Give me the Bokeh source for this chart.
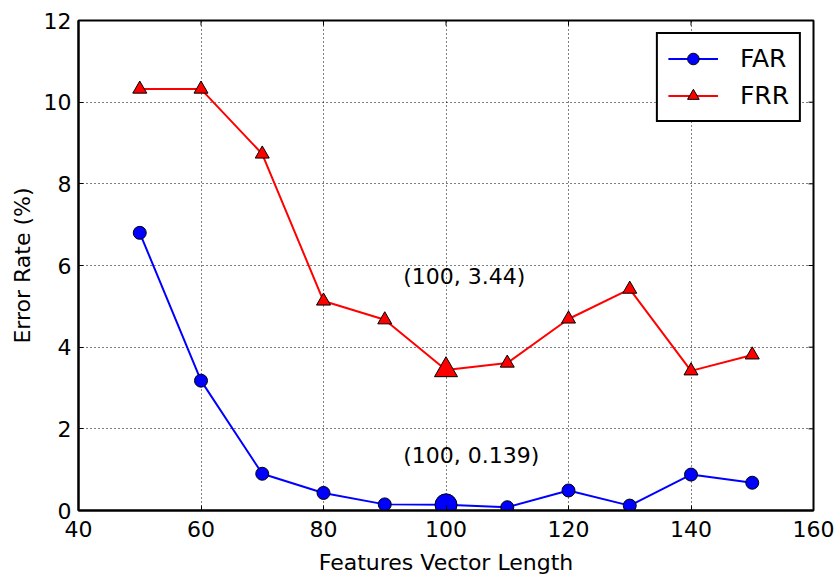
import math
from bokeh.plotting import figure
from bokeh.models import LinearAxis, Legend, LegendItem, FixedTicker, ColumnDataSource, Grid
from bokeh.core.properties import value
from bokeh.embed import file_html
from bokeh.resources import INLINE

# Data
x_len = [50, 60, 70, 80, 90, 100, 110, 120, 130, 140, 150]
far = [6.80, 3.18, 0.90, 0.43, 0.15, 0.139, 0.08, 0.49, 0.12, 0.88, 0.68]
frr = [10.32, 10.32, 8.73, 5.13, 4.67, 3.44, 3.61, 4.69, 5.42, 3.42, 3.81]
best_x = [100]
best_far = [0.139]
best_frr = [3.44]
ann_text = ["(100, 3.44)", "(100, 0.139)"]
ann_x = [93, 93]
ann_y = [5.72, 1.35]
x_ticks = [40, 60, 80, 100, 120, 140, 160]
y_ticks = [0, 2, 4, 6, 8, 10, 12]

FONT = "DejaVu Sans"

p = figure(width=838, height=577, x_range=(x_ticks[0], x_ticks[-1]),
           y_range=(y_ticks[0], y_ticks[-1]),
           output_backend="svg", toolbar_location=None,
           x_axis_type=None, y_axis_type=None,
           min_border_left=78, min_border_right=25, min_border_top=20, min_border_bottom=67)
p.background_fill_color = "white"
p.border_fill_color = "white"
p.outline_line_color = "black"
p.outline_line_alpha = 1
p.outline_line_width = 2


def make_axis(ticks, label):
    ax = LinearAxis(ticker=FixedTicker(ticks=ticks))
    ax.axis_line_color = "black"
    ax.axis_line_width = 2
    ax.major_tick_in = 5
    ax.major_tick_out = 0
    ax.major_tick_line_color = "black"
    ax.major_tick_line_width = 1
    ax.minor_tick_line_color = None
    ax.major_label_text_font = FONT
    ax.major_label_text_font_size = "22px"
    ax.major_label_text_color = "black"
    ax.major_label_standoff = 7
    ax.axis_label = label
    ax.axis_label_text_font = FONT
    ax.axis_label_text_font_size = "22px"
    ax.axis_label_text_font_style = "normal"
    ax.axis_label_text_color = "black"
    return ax


xb = make_axis(x_ticks, "Features Vector Length")
xb.major_label_standoff = 10
xb.axis_label_standoff = 10
yl = make_axis(y_ticks, "Error Rate (%)")
yl.axis_label_standoff = 6
p.add_layout(xb, "below")
p.add_layout(yl, "left")

# dotted grid
gx = Grid(dimension=0, ticker=FixedTicker(ticks=x_ticks), grid_line_color="black",
          grid_line_width=1, grid_line_dash="1 3")
gy = Grid(dimension=1, ticker=FixedTicker(ticks=y_ticks), grid_line_color="black",
          grid_line_width=1, grid_line_dash="1 3")
p.add_layout(gx)
p.add_layout(gy)

# inward ticks on the top and right edges (clipped half of a dash marker)
p.scatter(x_ticks, [y_ticks[-1]] * len(x_ticks), marker="dash", size=10,
          angle=math.pi / 2, line_color="black", line_width=1)
p.scatter([x_ticks[-1]] * len(y_ticks), y_ticks, marker="dash", size=10,
          line_color="black", line_width=1)

src = ColumnDataSource(dict(x=x_len, far=far, frr=frr))

far_line = p.line("x", "far", source=src, line_color="#0000ff", line_width=2)
far_pts = p.scatter("x", "far", source=src, marker="circle", size=13,
                    fill_color="#0000ff", line_color="black", line_width=1)
frr_line = p.line("x", "frr", source=src, line_color="#ff0000", line_width=2)
frr_pts = p.scatter("x", "frr", source=src, marker="triangle", size=14,
                    fill_color="#ff0000", line_color="black", line_width=1)

p.scatter(best_x, best_far, marker="circle", size=22, fill_color="#0000ff",
          line_color="black", line_width=1)
p.scatter(best_x, best_frr, marker="triangle", size=23, fill_color="#ff0000",
          line_color="black", line_width=1)

p.text(ann_x, ann_y, text=ann_text, text_font=value(FONT), text_font_size="22px",
       text_color="black", text_baseline="alphabetic", text_align="left")

legend = Legend(items=[LegendItem(label="FAR", renderers=[far_line, far_pts]),
                       LegendItem(label="FRR", renderers=[frr_line, frr_pts])],
                location="top_right")
legend.label_text_font = FONT
legend.label_text_font_size = "25px"
legend.label_text_color = "black"
legend.border_line_color = "black"
legend.border_line_alpha = 1
legend.border_line_width = 2
legend.background_fill_color = "white"
legend.background_fill_alpha = 1
legend.margin = 12
legend.padding = 10
legend.spacing = 8
legend.glyph_width = 50
legend.glyph_height = 29
legend.label_height = 29
legend.label_standoff = 22
p.add_layout(legend)

open("out.html", "w").write(file_html(p, INLINE))
